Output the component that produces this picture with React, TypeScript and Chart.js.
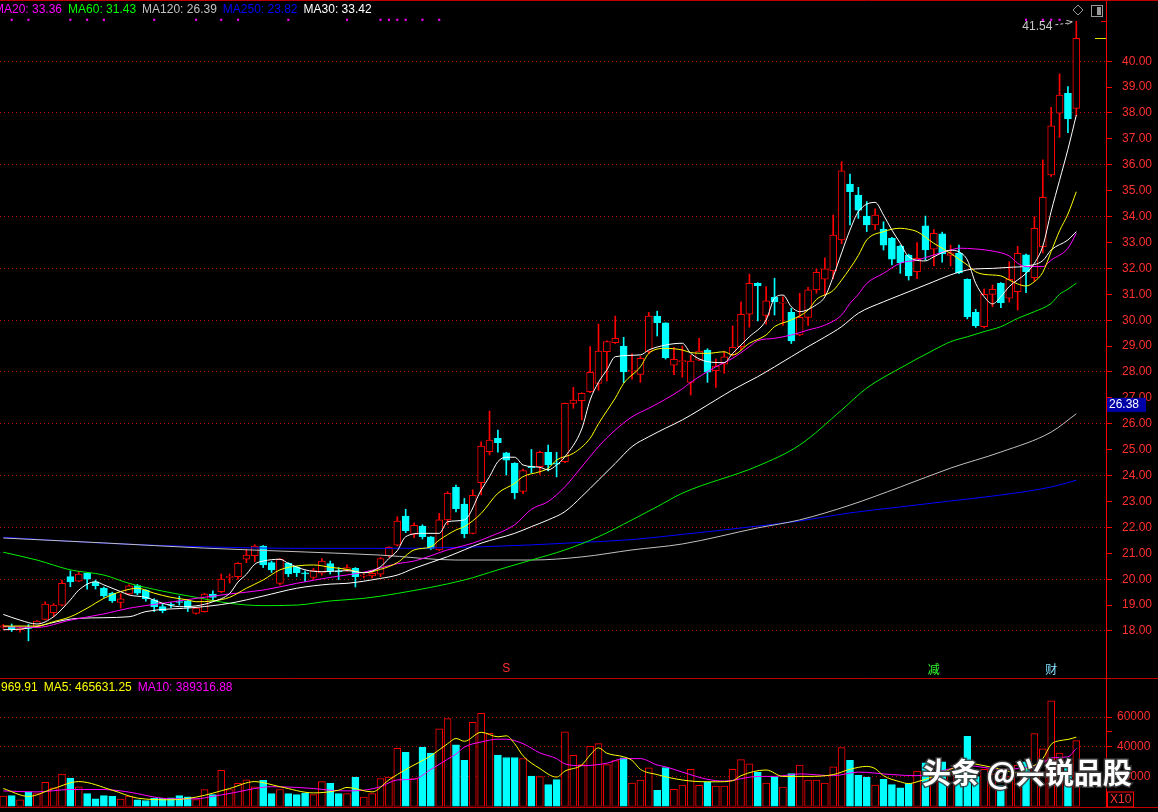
import React, { useEffect, useRef } from 'react';
import { Chart, registerables } from 'chart.js';

Chart.register(...registerables);

// ---------------- data ----------------
const opens = [
  18.15, 18.17, 18.05, 18.15, 18.18, 18.45, 18.71, 19.0, 20.1, 19.92,
  20.23, 19.9, 19.66, 19.46, 19.1, 19.43, 19.75, 19.58, 19.2, 18.94,
  19.02, 19.12, 19.16, 18.68, 18.75, 19.43, 19.52, 20.07, 20.1, 20.77,
  20.91, 21.28, 20.64, 19.84, 20.61, 20.46, 20.25, 20.07, 20.23, 20.6,
  20.3, 20.36, 20.42, 20.12, 20.13, 20.19, 20.9, 21.31, 22.44, 21.73,
  22.05, 21.64, 21.13, 22.29, 23.55, 22.9, 21.77, 23.73, 24.92, 25.44,
  24.88, 24.47, 23.39, 24.35, 24.34, 24.9, 24.48, 24.54, 26.79, 26.89,
  27.24, 27.56, 28.78, 29.13, 29.0, 28.03, 27.91, 28.78, 30.16, 29.9,
  28.26, 28.4, 27.6, 28.46, 28.85, 28.05, 28.3, 28.66, 28.98, 30.23,
  31.42, 30.18, 30.88, 30.66, 30.3, 29.43, 30.11, 31.17, 31.58, 31.9,
  33.1, 35.26, 34.83, 34.02, 33.68, 33.52, 33.16, 32.86, 32.51, 31.87,
  33.64, 32.74, 33.33, 32.5, 32.58, 31.58, 30.3, 29.75, 31.0, 31.42,
  30.85, 31.1, 32.52, 31.64, 32.84, 35.61, 37.99, 38.76, 38.18,
];
const highs = [
  18.25, 18.27, 18.15, 18.25, 18.4, 19.13, 19.06, 19.97, 20.32, 20.3,
  20.25, 19.97, 19.7, 19.5, 19.44, 19.78, 19.8, 19.6, 19.25, 19.06,
  19.1, 19.35, 19.2, 18.9, 19.46, 19.55, 20.2, 20.2, 20.64, 21.16,
  21.33, 21.3, 20.7, 20.8, 20.64, 20.5, 20.32, 20.42, 20.8, 20.7,
  20.45, 20.55, 20.45, 20.2, 20.32, 20.84, 21.25, 22.41, 22.7, 22.18,
  22.1, 21.65, 22.54, 23.38, 23.63, 23.12, 23.45, 25.3, 26.49, 25.76,
  24.9, 24.5, 24.25, 25.01, 24.95, 25.18, 24.9, 26.8, 27.41, 27.2,
  28.98, 29.85, 29.2, 30.16, 29.34, 28.7, 28.6, 30.3, 30.35, 29.9,
  28.95, 29.0, 28.65, 29.3, 28.9, 28.5, 28.8, 29.78, 30.71, 31.78,
  31.45, 31.3, 31.62, 30.9, 30.46, 31.04, 31.27, 31.98, 32.41, 34.06,
  36.12, 35.64, 35.13, 34.58, 34.3, 33.8, 33.2, 32.9, 32.55, 33.0,
  34.02, 33.5, 33.4, 32.9, 32.9, 31.6, 30.42, 31.2, 31.36, 31.45,
  32.26, 32.85, 32.55, 34.0, 36.19, 38.22, 39.51, 39.02, 41.54,
];
const lows = [
  18.1, 17.98, 17.95, 17.62, 18.15, 18.43, 18.55, 18.97, 19.71, 19.9,
  19.61, 19.62, 19.3, 19.1, 18.88, 19.39, 19.4, 19.15, 18.75, 18.7,
  18.9, 19.0, 18.75, 18.65, 18.73, 19.2, 19.48, 19.85, 20.0, 20.64,
  20.68, 20.45, 20.26, 19.78, 20.1, 20.1, 19.9, 20.0, 20.16, 20.2,
  19.98, 20.3, 19.7, 20.05, 20.05, 20.1, 20.85, 21.28, 21.8, 21.6,
  21.55, 21.15, 21.1, 22.1, 22.6, 21.6, 21.75, 23.25, 24.8, 24.9,
  24.02, 23.1, 23.3, 24.1, 24.05, 24.18, 23.95, 24.5, 26.6, 26.15,
  27.2, 27.3, 27.66, 29.1, 27.59, 27.72, 27.6, 28.7, 29.39, 28.5,
  27.9, 27.8, 27.11, 28.44, 27.6, 27.4, 27.95, 28.62, 28.85, 29.73,
  29.97, 29.85, 30.2, 29.8, 29.1, 29.4, 29.8, 31.04, 30.97, 31.6,
  32.95, 33.68, 33.93, 33.42, 33.5, 32.71, 32.13, 31.81, 31.55, 31.6,
  32.32, 32.1, 32.24, 32.1, 31.8, 30.05, 29.72, 29.7, 30.52, 30.48,
  30.7, 30.39, 31.06, 31.5, 32.6, 35.55, 37.06, 37.24, 37.9,
];
const closes = [
  18.2, 18.07, 18.12, 18.1, 18.38, 19.04, 19.0, 19.84, 19.89, 20.2,
  20.0, 19.75, 19.35, 19.16, 19.24, 19.74, 19.46, 19.24, 18.94, 18.78,
  19.0, 19.1, 18.91, 18.88, 19.43, 19.3, 20.0, 20.1, 20.61, 20.93,
  21.28, 20.55, 20.36, 20.77, 20.2, 20.25, 20.2, 20.33, 20.7, 20.3,
  20.28, 20.45, 20.1, 20.15, 20.23, 20.8, 21.23, 22.24, 21.87, 22.08,
  21.64, 21.19, 22.29, 23.32, 22.72, 21.75, 23.24, 25.14, 25.37, 25.27,
  24.6, 23.34, 24.19, 24.3, 24.9, 24.41, 24.44, 26.79, 26.92, 27.18,
  27.99, 28.81, 29.17, 29.3, 28.01, 28.06, 28.53, 30.16, 29.9, 28.55,
  28.49, 28.43, 28.42, 28.81, 27.99, 28.23, 28.59, 28.95, 30.23, 31.42,
  31.33, 30.75, 30.71, 30.7, 29.2, 30.11, 31.17, 31.85, 31.98, 33.29,
  35.77, 34.96, 34.25, 33.68, 34.06, 32.9, 32.36, 32.22, 31.71, 32.39,
  32.71, 33.35, 32.56, 32.6, 31.83, 30.14, 29.79, 31.0, 31.19, 30.68,
  31.58, 32.58, 31.87, 33.55, 34.74, 37.5, 38.69, 37.77, 40.88,
];
// volume in axis units (x10)
const volumes = [
  7000, 7250, 4470, 9800, 8640, 16250, 12550, 21800, 19050, 13250,
  8640, 5170, 7250, 6800, 4930, 7000, 4470, 4000, 5400, 5400,
  5850, 7250, 6500, 4700, 11400, 7950, 24350, 11400, 15550, 17870,
  13250, 17640, 8640, 11400, 8640, 7950, 9090, 7950, 16700, 15550,
  8640, 8640, 19750, 6300, 8640, 18800, 19750, 39100, 36350, 18800,
  39830, 35930, 52100, 59000, 41450, 31050, 56450, 62460, 49080, 34520,
  32900, 32900, 32200, 20430, 20000, 14680, 18040, 50120, 34300, 28100,
  40320, 42230, 28100, 30750, 32640, 15650, 17800, 25900, 10800, 26200,
  11500, 14400, 24960, 14200, 16560, 13700, 13700, 24960, 31450, 28600,
  23100, 15650, 19700, 13000, 22100, 27850, 17800, 17800, 15650, 26650,
  39600, 30950, 20900, 19700, 14430, 18250, 14700, 12500, 15400, 23800,
  29300, 30250, 30000, 22000, 25000, 47040, 20000, 25000, 22000, 14000,
  20000, 27850, 30000, 48900, 38650, 71000, 35770, 28600, 44180,
];

// moving-average lines: [day index, value]
const ma5: [number, number][] = [
  [0, 18.64], [2, 18.42], [4, 18.27], [6, 18.55], [8, 19.2], [9, 19.58], [11, 19.9], [12, 19.78], [14, 19.52],
  [15, 19.39], [17, 19.3], [19, 19.07], [21, 18.94], [23, 18.97], [25, 19.13], [27, 19.45], [28, 19.89], [29, 20.19],
  [30, 20.58], [31, 20.7], [33, 20.77], [34, 20.61], [36, 20.36], [38, 20.29], [41, 20.33], [43, 20.25], [45, 20.48],
  [46, 20.8], [47, 21.1], [48, 21.64], [50, 21.77], [52, 21.77], [53, 22.22], [55, 22.29], [57, 23.44], [58, 23.96],
  [59, 24.54], [60, 24.71], [61, 24.71], [62, 24.41], [64, 24.32], [65, 24.22], [66, 24.41], [67, 24.73], [69, 25.8],
  [70, 26.92], [71, 27.6], [72, 28.08], [73, 28.59], [76, 28.66], [77, 28.85], [79, 29.04], [81, 29.11], [82, 28.72],
  [84, 28.4], [86, 28.36], [87, 28.72], [89, 29.36], [91, 30.01], [92, 30.85], [93, 30.97], [94, 30.52], [95, 30.33],
  [97, 30.6], [98, 30.9], [99, 31.68], [100, 32.6], [101, 33.48], [102, 34.19], [104, 34.55], [105, 34.06], [106, 33.48],
  [107, 32.97], [108, 32.45], [110, 32.29], [111, 32.45], [113, 32.7], [114, 32.64], [115, 32.32], [116, 31.42],
  [117, 30.91], [118, 30.63], [119, 30.91], [120, 31.3], [122, 31.81], [123, 32.2], [124, 32.86], [125, 34.2],
  [126, 35.4], [127, 36.6], [128, 37.92],
];
const ma10: [number, number][] = [
  [0, 18.19], [4, 18.19], [6, 18.36], [8, 18.55], [10, 18.88], [12, 19.26], [14, 19.52], [16, 19.65], [18, 19.46],
  [20, 19.3], [22, 19.2], [23, 19.13], [25, 19.16], [27, 19.3], [29, 19.65], [31, 19.97], [33, 20.36], [35, 20.51],
  [37, 20.55], [39, 20.46], [41, 20.38], [43, 20.25], [45, 20.38], [47, 20.64], [49, 21.13], [51, 21.25], [52, 21.51],
  [54, 21.9], [55, 22.03], [57, 22.54], [59, 23.32], [61, 23.7], [62, 23.96], [64, 24.15], [65, 24.28], [66, 24.6],
  [68, 24.86], [70, 25.44], [71, 26.0], [72, 26.5], [73, 26.99], [74, 27.56], [76, 28.2], [77, 28.72], [79, 28.91],
  [81, 28.85], [82, 28.75], [84, 28.72], [86, 28.78], [87, 28.66], [89, 29.11], [91, 29.43], [92, 29.75], [94, 30.01],
  [96, 30.39], [97, 30.8], [99, 31.15], [100, 31.55], [101, 32.0], [102, 32.5], [103, 33.1], [105, 33.42], [107, 33.55],
  [108, 33.51], [109, 33.42], [111, 32.97], [112, 32.78], [113, 32.58], [115, 32.13], [116, 31.87], [117, 31.77],
  [119, 31.71], [120, 31.55], [121, 31.4], [122, 31.32], [123, 31.49], [124, 31.85], [125, 32.65], [126, 33.45],
  [127, 34.1], [128, 34.96],
];
const ma20: [number, number][] = [
  [0, 18.17], [4, 18.14], [8, 18.42], [12, 18.66], [15, 18.88], [19, 19.07], [23, 19.26], [27, 19.43], [31, 19.58],
  [35, 19.84], [39, 20.07], [43, 20.27], [47, 20.6], [49, 20.7], [53, 21.13], [56, 21.39], [58, 21.64], [61, 22.1],
  [63, 22.7], [65, 23.0], [67, 23.57], [69, 24.34], [71, 25.12], [73, 25.76], [75, 26.27], [77, 26.6], [79, 26.95],
  [81, 27.35], [82, 27.6], [85, 28.2], [87, 28.53], [89, 28.98], [90, 29.21], [92, 29.3], [94, 29.43], [96, 29.62],
  [98, 29.81], [100, 30.2], [101, 30.65], [102, 31.0], [103, 31.42], [105, 31.81], [107, 32.2], [109, 32.32],
  [111, 32.52], [113, 32.71], [114, 32.78], [116, 32.75], [118, 32.67], [120, 32.48], [121, 32.2], [122, 32.07],
  [124, 32.07], [125, 32.32], [127, 32.78], [128, 33.36],
];
const ma30: [number, number][] = [
  [0, 18.05], [2, 18.07], [9, 18.49], [15, 18.55], [17, 18.75], [23, 18.91], [27, 19.07], [31, 19.35], [35, 19.65],
  [39, 19.81], [41, 19.84], [45, 20.03], [47, 20.16], [49, 20.42], [53, 20.87], [57, 21.39], [61, 21.77], [63, 22.03],
  [65, 22.29], [67, 22.61], [69, 23.19], [71, 23.83], [73, 24.47], [75, 25.12], [77, 25.5], [79, 25.83], [81, 26.15],
  [85, 26.92], [87, 27.31], [90, 27.82], [92, 28.2], [94, 28.59], [96, 28.98], [98, 29.35], [100, 29.75], [102, 30.27],
  [105, 30.71], [107, 30.97], [109, 31.23], [111, 31.49], [113, 31.75], [115, 31.94], [116, 31.98], [118, 32.0],
  [120, 32.04], [122, 32.09], [124, 32.3], [125, 32.71], [127, 33.1], [128, 33.42],
];
const ma60: [number, number][] = [
  [0, 21.04], [4, 20.74], [8, 20.36], [12, 20.16], [15, 19.84], [19, 19.54], [23, 19.3], [27, 19.07], [31, 18.98],
  [35, 19.0], [39, 19.16], [43, 19.26], [47, 19.45], [55, 19.97], [59, 20.36], [63, 20.74], [67, 21.13], [71, 21.64],
  [75, 22.29], [78, 22.8], [81, 23.32], [90, 24.37], [95, 25.18], [100, 26.53], [103, 27.38], [107, 28.15],
  [111, 28.85], [113, 29.17], [115, 29.36], [117, 29.56], [119, 29.75], [121, 30.07], [123, 30.33], [125, 30.65],
  [126, 31.0], [127, 31.2], [128, 31.43],
];
const ma120: [number, number][] = [
  [0, 21.59], [12, 21.4], [24, 21.2], [36, 21.05], [45, 20.93], [54, 20.74], [63, 20.74], [69, 20.86], [75, 21.13],
  [81, 21.36], [90, 21.98], [95, 22.29], [101, 22.86], [107, 23.56], [113, 24.29], [119, 24.91], [125, 25.68],
  [128, 26.39],
];
const ma250: [number, number][] = [
  [0, 21.62], [12, 21.39], [24, 21.25], [36, 21.19], [45, 21.19], [57, 21.25], [69, 21.42], [75, 21.53], [81, 21.73],
  [90, 22.05], [95, 22.25], [101, 22.56], [107, 22.79], [113, 23.02], [119, 23.25], [125, 23.56], [128, 23.82],
];
const volMa5: [number, number][] = [
  [0, 12080], [3, 6780], [6, 12080], [9, 16710], [13, 10940], [16, 5640], [20, 4500], [23, 6310], [27, 12080],
  [30, 16710], [33, 13290], [37, 9130], [40, 10940], [41, 12820], [44, 9800], [46, 17850], [48, 24830], [51, 34030],
  [53, 42150], [54, 45630], [55, 43760], [57, 49800], [59, 46780], [60, 47450], [61, 42150], [62, 34030], [64, 25500],
  [66, 19730], [67, 23760], [69, 27850], [70, 34560], [71, 39330], [72, 35770], [74, 33350], [75, 30940], [76, 24970],
  [78, 21410], [81, 17780], [84, 16580], [85, 16580], [87, 17310], [88, 20670], [91, 24500], [93, 20200], [96, 20200],
  [99, 21410], [101, 24970], [103, 26910], [104, 25430], [105, 20670], [107, 16580], [108, 15370], [109, 16580],
  [111, 20200], [113, 24970], [115, 29060], [117, 27380], [119, 24970], [121, 22550], [122, 24970], [124, 32150],
  [125, 41740], [126, 44160], [127, 45000], [128, 46563],
];
const volMa10: [number, number][] = [
  [0, 10470], [4, 9800], [8, 11410], [12, 11410], [14, 10470], [16, 8660], [18, 6310], [20, 5170], [23, 5170],
  [25, 6780], [28, 9800], [30, 12080], [32, 13290], [35, 12820], [37, 12080], [39, 10940], [41, 10470], [43, 10940],
  [45, 13290], [47, 17850], [49, 18320], [51, 24830], [53, 31740], [54, 35230], [55, 39860], [57, 43290], [59, 45160],
  [60, 45160], [62, 42150], [64, 36000], [66, 32150], [67, 28590], [69, 27380], [72, 29060], [74, 32150], [76, 32150],
  [78, 27850], [79, 26640], [81, 23090], [84, 18250], [86, 17050], [90, 20200], [92, 20200], [95, 21880], [99, 20670],
  [102, 23090], [106, 21410], [109, 20670], [111, 22550], [113, 25430], [115, 27380], [119, 24970], [122, 26170],
  [124, 29260], [125, 32620], [127, 33350], [128, 38932],
];

const priceTicks = [18, 19, 20, 21, 22, 23, 24, 25, 26, 27, 28, 29, 30, 31, 32, 33, 34, 35, 36, 37, 38, 39, 40];
const volumeTicks = [20000, 30000, 40000, 50000, 60000];
const volumeTickLabels = [20000, 40000, 60000];
const signalDays = [1, 3, 8, 10, 12, 18, 23, 26, 28, 34, 41, 45, 46, 47, 48, 50, 52, 122, 124, 125, 126];
const signalLevel = 41.6;
const eventMarks = [
  { day: 60, text: 'S', color: '#ff3030' },
  { day: 111, text: '减', color: '#30ff30' },
  { day: 125, text: '财', color: '#80e0ff' },
];
const priceLegend = [
  { text: 'MA20: 33.36', color: '#ff00ff' },
  { text: 'MA60: 31.43', color: '#00ff00' },
  { text: 'MA120: 26.39', color: '#c0c0c0' },
  { text: 'MA250: 23.82', color: '#0000ff' },
  { text: 'MA30: 33.42', color: '#ffffff' },
];
const volumeLegend = [
  { text: '969.91', color: '#ffff00' },
  { text: 'MA5: 465631.25', color: '#ffff00' },
  { text: 'MA10: 389316.88', color: '#ff00ff' },
];
const priceTagText = '26.38';
const priceTagLevel = 26.73;
const volumeUnitText = 'X10';
const watermarkText = '头条 @兴锐品股';

// ---------------- styling / layout ----------------
const UP = '#ff0000';
const DOWN = '#00ffff';
const AXIS = '#ff0000';
const GRID = '#b40000';
const LABEL = '#ff3030';
const FONT = '"Liberation Sans", Arial, sans-serif';
const X_MIN = -0.394;
const X_MAX = 131.54;
const P_MIN = 16.185;
const P_MAX = 42.363;
const V_MAX = 86240;

const isUp = (i: number) => closes[i] >= opens[i];
const pts = (pairs: [number, number][]) => pairs.map(([x, y]) => ({ x, y }));

function lineDs(label: string, pairs: [number, number][], color: string) {
  return {
    type: 'line',
    label,
    data: pts(pairs),
    borderColor: color,
    backgroundColor: color,
    borderWidth: 1,
    pointRadius: 0,
    cubicInterpolationMode: 'monotone',
    fill: false,
    order: 0,
  };
}

const mainDecor = {
  id: 'mainDecor',
  afterDraw(chart: any) {
    const { ctx, chartArea, scales } = chart;
    const xs = scales.x;
    const ys = scales.y;
    const W = chart.width;
    ctx.save();
    ctx.lineWidth = 1;
    ctx.strokeStyle = '#c00000';
    ctx.beginPath();
    ctx.moveTo(0, 0.5);
    ctx.lineTo(W, 0.5);
    ctx.stroke();

    ctx.font = `12px ${FONT}`;
    ctx.textBaseline = 'middle';
    ctx.textAlign = 'left';
    let lx = -6;
    priceLegend.forEach((it) => {
      ctx.fillStyle = it.color;
      ctx.fillText(it.text, lx, 10);
      lx += ctx.measureText(it.text).width + 6;
    });

    let hi = 0;
    highs.forEach((h, i) => {
      if (h > highs[hi]) hi = i;
    });
    const hx = xs.getPixelForValue(hi);
    const hy = ys.getPixelForValue(highs[hi]);
    ctx.fillStyle = '#c8c8c8';
    ctx.textAlign = 'right';
    ctx.fillText(highs[hi].toFixed(2), hx - 24, hy + 5);
    ctx.strokeStyle = '#c8c8c8';
    ctx.setLineDash([3, 2]);
    ctx.beginPath();
    ctx.moveTo(hx - 21, hy + 3.5);
    ctx.lineTo(hx - 6, hy + 1.5);
    ctx.stroke();
    ctx.setLineDash([]);
    ctx.beginPath();
    ctx.moveTo(hx - 10, hy - 1);
    ctx.lineTo(hx - 4, hy + 0.5);
    ctx.lineTo(hx - 9, hy + 3);
    ctx.stroke();

    ctx.strokeStyle = '#9a9a9a';
    ctx.beginPath();
    ctx.moveTo(1078, 5);
    ctx.lineTo(1083, 10);
    ctx.lineTo(1078, 15);
    ctx.lineTo(1073, 10);
    ctx.closePath();
    ctx.stroke();
    ctx.strokeRect(1091.5, 5.5, 11, 11);
    ctx.fillStyle = '#9a9a9a';
    ctx.fillRect(1097, 7, 4, 8);

    const last = closes.length - 1;
    const cy = Math.round(ys.getPixelForValue(closes[last])) + 0.5;
    ctx.strokeStyle = '#e0e000';
    ctx.beginPath();
    ctx.moveTo(chartArea.right - 11, cy);
    ctx.lineTo(chartArea.right, cy);
    ctx.stroke();
    ctx.strokeStyle = AXIS;
    ctx.beginPath();
    ctx.moveTo(chartArea.right - 5, Math.round(hy) + 0.5);
    ctx.lineTo(chartArea.right, Math.round(hy) + 0.5);
    ctx.stroke();

    const ty = ys.getPixelForValue(priceTagLevel);
    ctx.fillStyle = '#0000a8';
    ctx.fillRect(chartArea.right + 1, ty - 7, 39, 14);
    ctx.fillStyle = '#ffffff';
    ctx.textAlign = 'left';
    ctx.fillText(priceTagText, chartArea.right + 3, ty);

    eventMarks.forEach((m) => {
      const ex = xs.getPixelForValue(m.day);
      ctx.font = m.text === 'S' ? `12px ${FONT}` : '12px "Noto Sans CJK SC", sans-serif';
      ctx.fillStyle = m.color;
      ctx.textAlign = 'center';
      ctx.fillText(m.text, ex, chartArea.bottom - 9);
    });
    ctx.restore();
  },
};

const volDecor = {
  id: 'volDecor',
  afterDraw(chart: any) {
    const { ctx, chartArea } = chart;
    const W = chart.width;
    ctx.save();
    ctx.lineWidth = 1;
    ctx.strokeStyle = '#c00000';
    ctx.beginPath();
    ctx.moveTo(0, 0.5);
    ctx.lineTo(W, 0.5);
    ctx.stroke();
    ctx.beginPath();
    ctx.moveTo(0, Math.round(chartArea.bottom) + 0.5);
    ctx.lineTo(W, Math.round(chartArea.bottom) + 0.5);
    ctx.stroke();

    ctx.font = `12px ${FONT}`;
    ctx.textBaseline = 'middle';
    ctx.textAlign = 'left';
    let lx = 1;
    volumeLegend.forEach((it) => {
      ctx.fillStyle = it.color;
      ctx.fillText(it.text, lx, 9.5);
      lx += ctx.measureText(it.text).width + 6;
    });

    ctx.strokeStyle = AXIS;
    ctx.strokeRect(chartArea.right + 1.5, chartArea.bottom - 14.5, 26, 15);
    ctx.fillStyle = LABEL;
    ctx.fillText(volumeUnitText, chartArea.right + 4, chartArea.bottom - 6.5);

    ctx.font = 'bold 29px "Noto Sans CJK SC", sans-serif';
    ctx.textBaseline = 'middle';
    ctx.lineWidth = 3;
    ctx.strokeStyle = 'rgba(60,60,60,0.9)';
    ctx.strokeText(watermarkText, 922, 95);
    ctx.fillStyle = '#ffffff';
    ctx.fillText(watermarkText, 922, 95);
    ctx.restore();
  },
};

function rightAxis(min: number, max: number, ticks: number[], labelFn: (v: number) => string, gridFn: (v: number) => boolean, pad: number) {
  return {
    type: 'linear',
    position: 'right',
    min,
    max,
    afterBuildTicks: (s: any) => {
      s.ticks = ticks.map((v) => ({ value: v }));
    },
    afterFit: (s: any) => {
      s.width = 52;
      s.paddingTop = 0;
      s.paddingBottom = 0;
    },
    ticks: {
      color: LABEL,
      font: { family: FONT, size: 12 },
      padding: pad,
      autoSkip: false,
      maxRotation: 0,
      callback: (v: any) => labelFn(Number(v)),
    },
    grid: {
      drawOnChartArea: true,
      color: (c: any) => (c.tick && gridFn(c.tick.value) ? GRID : 'transparent'),
      tickColor: AXIS,
      tickLength: 6,
      lineWidth: 1,
    },
    border: { display: true, color: AXIS, width: 1, dash: [1, 3] },
  };
}

const xAxis = { type: 'linear', min: X_MIN, max: X_MAX, display: false, offset: false, bounds: 'ticks' };

export default function App() {
  const mainRef = useRef<HTMLCanvasElement | null>(null);
  const volRef = useRef<HTMLCanvasElement | null>(null);

  useEffect(() => {
    document.body.style.margin = '0';
    document.body.style.background = '#000';
    document.body.style.overflow = 'hidden';

    const idx = closes.map((_, i) => i);
    const bodyColor = idx.map((i) => (isUp(i) ? '#000000' : DOWN));
    const edgeColor = idx.map((i) => (isUp(i) ? UP : DOWN));

    const main = new Chart(mainRef.current as HTMLCanvasElement, {
      type: 'bar',
      data: {
        datasets: [
          lineDs('MA5', ma5, '#ffffff'),
          lineDs('MA10', ma10, '#ffff00'),
          lineDs('MA20', ma20, '#ff00ff'),
          lineDs('MA30', ma30, '#ffffff'),
          lineDs('MA60', ma60, '#00ee00'),
          lineDs('MA120', ma120, '#c0c0c0'),
          lineDs('MA250', ma250, '#0000ff'),
          {
            type: 'line',
            label: 'signal',
            data: signalDays.map((d) => ({ x: d, y: signalLevel })),
            showLine: false,
            pointStyle: 'rect',
            pointRadius: 1.5,
            pointBorderWidth: 0,
            pointBackgroundColor: '#ff00ff',
            order: 0,
          },
          {
            type: 'bar',
            label: 'body',
            data: idx.map((i) => ({ x: i, y: [opens[i], closes[i]] })),
            backgroundColor: bodyColor,
            borderColor: edgeColor,
            borderWidth: 1,
            borderSkipped: false,
            barThickness: 7,
            minBarLength: 1,
            grouped: false,
            order: 1,
          },
          {
            type: 'bar',
            label: 'wick',
            data: idx.map((i) => ({ x: i, y: [lows[i], highs[i]] })),
            backgroundColor: edgeColor,
            borderWidth: 0,
            barThickness: 1,
            grouped: false,
            order: 2,
          },
        ],
      } as any,
      options: {
        responsive: false,
        animation: false,
        events: [],
        layout: { padding: 0, autoPadding: false },
        plugins: { legend: { display: false }, tooltip: { enabled: false } },
        scales: {
          x: xAxis,
          y: rightAxis(P_MIN, P_MAX, priceTicks, (v) => v.toFixed(2), (v) => v % 2 === 0, 10),
        },
      } as any,
      plugins: [mainDecor],
    });

    const vol = new Chart(volRef.current as HTMLCanvasElement, {
      type: 'bar',
      data: {
        datasets: [
          lineDs('VMA5', volMa5, '#ffff00'),
          lineDs('VMA10', volMa10, '#ff00ff'),
          {
            type: 'bar',
            label: 'volume',
            data: idx.map((i) => ({ x: i, y: volumes[i] })),
            backgroundColor: bodyColor,
            borderColor: edgeColor,
            borderWidth: 1,
            borderSkipped: false,
            barThickness: 7,
            grouped: false,
            order: 1,
          },
        ],
      } as any,
      options: {
        responsive: false,
        animation: false,
        events: [],
        layout: { padding: { top: 0, bottom: 5.5, left: 0, right: 0 }, autoPadding: false },
        plugins: { legend: { display: false }, tooltip: { enabled: false } },
        scales: {
          x: xAxis,
          y: rightAxis(0, V_MAX, volumeTicks, (v) => (volumeTickLabels.includes(v) ? String(v) : ''), (v) => volumeTickLabels.includes(v), 5),
        },
      } as any,
      plugins: [volDecor],
    });

    return () => {
      main.destroy();
      vol.destroy();
    };
  }, []);

  return (
    <div style={{ width: 1158, height: 812, background: '#000', position: 'relative' }}>
      <canvas ref={mainRef} width={1158} height={678} style={{ display: 'block' }} />
      <canvas ref={volRef} width={1158} height={134} style={{ display: 'block' }} />
    </div>
  );
}
